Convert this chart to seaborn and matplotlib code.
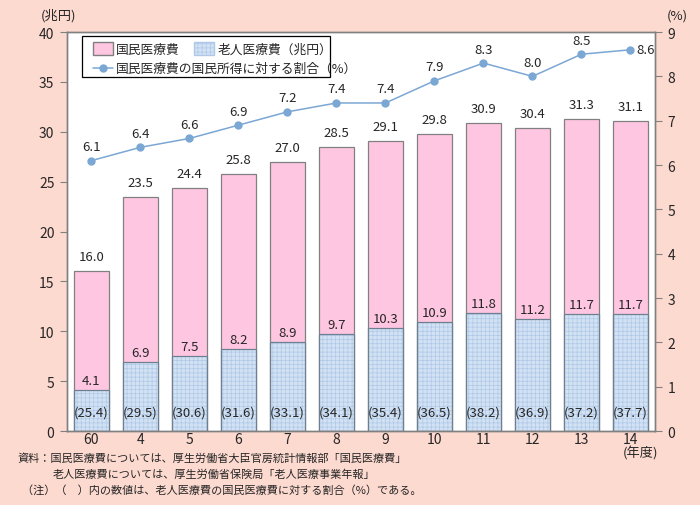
import matplotlib
matplotlib.use("Agg")
import matplotlib.pyplot as plt
import matplotlib.patches as mpatches
from matplotlib.lines import Line2D
import pandas as pd
import seaborn as sns

# データ
years = ["60", "4", "5", "6", "7", "8", "9", "10", "11", "12", "13", "14"]
total_cost = [16.0, 23.5, 24.4, 25.8, 27.0, 28.5, 29.1, 29.8, 30.9, 30.4, 31.3, 31.1]
elderly_cost = [4.1, 6.9, 7.5, 8.2, 8.9, 9.7, 10.3, 10.9, 11.8, 11.2, 11.7, 11.7]
elderly_share = [25.4, 29.5, 30.6, 31.6, 33.1, 34.1, 35.4, 36.5, 38.2, 36.9, 37.2, 37.7]
income_ratio = [6.1, 6.4, 6.6, 6.9, 7.2, 7.4, 7.4, 7.9, 8.3, 8.0, 8.5, 8.6]

BG = "#FDDAD0"
PINK = "#FFC6E2"
BLUE = "#D2E2F3"
HATCH = "#AFC8E8"
LINE = "#7BA7D4"
EDGE = "#808080"

sns.set_style("white")
plt.rcParams["font.family"] = ["Noto Sans CJK JP", "DejaVu Sans"]
plt.rcParams["hatch.linewidth"] = 0.5

df = pd.DataFrame({"year": years, "total": total_cost, "elderly": elderly_cost,
                   "share": elderly_share, "ratio": income_ratio})

fig = plt.figure(figsize=(7, 5.06), dpi=100, facecolor=BG)
ax = fig.add_axes([0.0957, 0.1462, 0.84, 0.7885])
ax.set_facecolor("white")

# 国民医療費（全体）
sns.barplot(data=df, x="year", y="total", order=years, color=PINK, width=0.73,
            edgecolor=EDGE, linewidth=0.9, saturation=1, ax=ax)
n_total = len(ax.patches)
# 老人医療費（ハッチは枠線の色になるので、枠線は後から別に描く）
sns.barplot(data=df, x="year", y="elderly", order=years, color=BLUE, width=0.73,
            edgecolor=HATCH, linewidth=0.5, saturation=1, ax=ax)
for p in ax.patches[n_total:]:
    p.set_hatch("++++")
sns.barplot(data=df, x="year", y="elderly", order=years, color="#6E7F90", width=0.73,
            fill=False, linewidth=0.9, saturation=1, ax=ax)

ax.set_xlim(-0.5, 11.5)
ax.set_ylim(0, 40)
ax.set_yticks(range(0, 41, 5))
ax.set_xlabel("")
ax.set_ylabel("")

# 数値ラベル
for i in range(len(years)):
    ax.text(i, total_cost[i] + 0.8, f"{total_cost[i]:.1f}", ha="center", va="bottom", fontsize=9.5)
    ax.text(i, elderly_cost[i] + 0.35, f"{elderly_cost[i]:.1f}", ha="center", va="bottom", fontsize=9.5)
    ax.text(i, 1.9, f"({elderly_share[i]:.1f})", ha="center", va="center", fontsize=9.5)

# 右軸：割合
ax2 = ax.twinx()
ax2.plot(range(len(years)), income_ratio, color=LINE, marker="o", markersize=5, linewidth=1.1)
ax2.set_ylim(0, 9)
ax2.set_yticks(range(0, 10))
for i, v in enumerate(income_ratio):
    if i == len(years) - 1:
        ax2.text(i + 0.12, v, f"{v:.1f}", ha="left", va="center", fontsize=9.5)
    else:
        ax2.text(i, v + 0.17, f"{v:.1f}", ha="center", va="bottom", fontsize=9.5)

for a in (ax, ax2):
    for s in a.spines.values():
        s.set_color(EDGE)
        s.set_linewidth(1.0)
ax.tick_params(axis="y", direction="out", length=5, color=EDGE, labelsize=10, pad=4)
ax2.tick_params(axis="y", direction="out", length=5, color=EDGE, labelsize=10, pad=4)
ax.tick_params(axis="x", length=0, labelsize=10, pad=1)
ax.set_xticks([i + 0.5 for i in range(len(years) - 1)], minor=True)
ax.tick_params(axis="x", which="minor", direction="in", length=4, color=EDGE)

# 単位
fig.text(0.058, 0.968, "(兆円)", fontsize=9.5, ha="left", va="center")
fig.text(0.953, 0.968, "(%)", fontsize=9.5, ha="left", va="center")
fig.text(640 / 700, 1 - 454 / 506, "(年度)", fontsize=9.5, ha="center", va="center")

# 凡例
h_pink = mpatches.Patch(facecolor=PINK, edgecolor=EDGE, label="国民医療費")
h_blue = mpatches.Patch(facecolor=BLUE, edgecolor=HATCH, hatch="++++", label="老人医療費（兆円）")
h_line = Line2D([], [], color=LINE, marker="o", markersize=5, linewidth=1.1,
                label="国民医療費の国民所得に対する割合（%）")
frame = mpatches.Rectangle((0.0255, 0.887), 0.422, 0.103, transform=ax.transAxes,
                           facecolor="white", edgecolor="black", linewidth=0.9, zorder=5)
ax2.add_patch(frame)
leg1 = ax2.legend(handles=[h_pink, h_blue], loc="upper left", bbox_to_anchor=(0.026, 1.0),
                  ncol=2, frameon=False, fontsize=9.2, handlelength=1.6, handleheight=1.1,
                  columnspacing=1.1, handletextpad=0.25, borderpad=0.3)
ax2.add_artist(leg1)
leg1.set_zorder(6)
leg2 = ax2.legend(handles=[h_line], loc="upper left", bbox_to_anchor=(0.026, 0.95),
                  frameon=False, fontsize=9.2, handlelength=1.6, handletextpad=0.25, borderpad=0.3)
leg2.set_zorder(6)

# 注記
fig.text(18 / 700, 1 - 459 / 506, "資料：国民医療費については、厚生労働省大臣官房統計情報部「国民医療費」",
         fontsize=8, ha="left", va="center")
fig.text(53 / 700, 1 - 475 / 506, "老人医療費については、厚生労働省保険局「老人医療事業年報」",
         fontsize=8, ha="left", va="center")
fig.text(22 / 700, 1 - 490 / 506, "（注）（　）内の数値は、老人医療費の国民医療費に対する割合（%）である。",
         fontsize=8, ha="left", va="center")

fig.savefig("out.png", dpi=100, facecolor=BG)
